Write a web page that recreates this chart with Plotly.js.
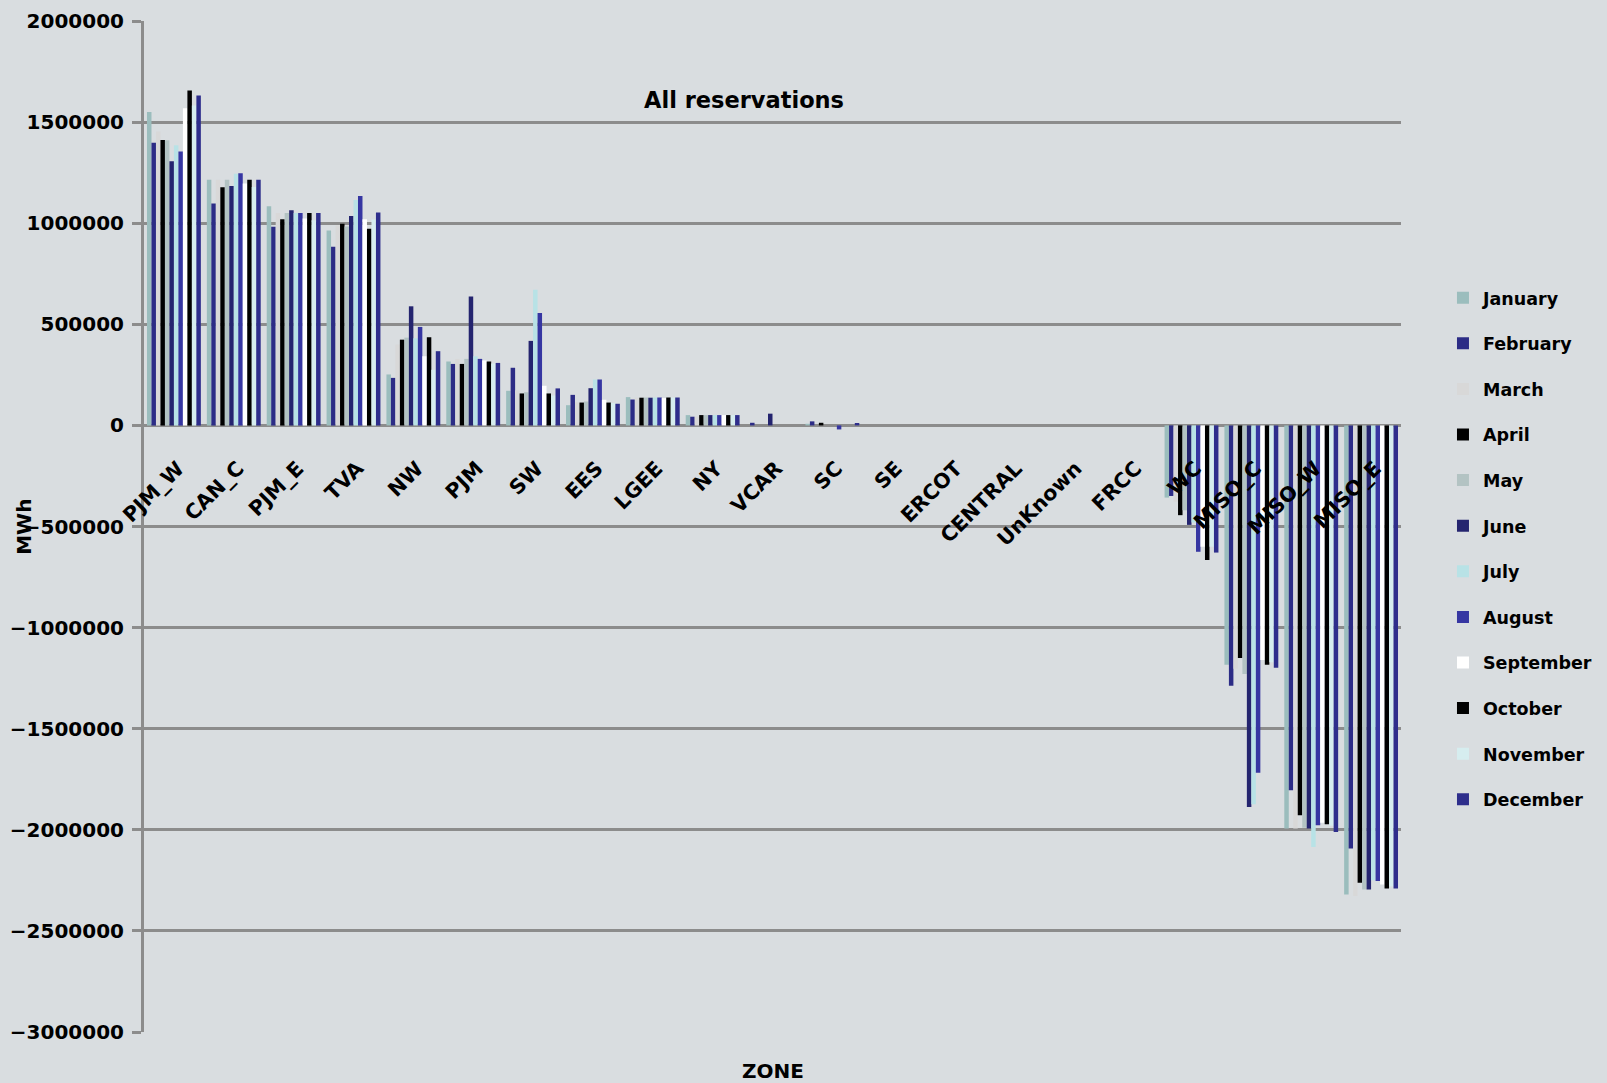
<!DOCTYPE html>
<html>
<head>
<meta charset="utf-8">
<script src="https://cdn.plot.ly/plotly-3.0.1.min.js"></script>
<style>
  html, body { margin: 0; padding: 0; background: #D9DDE0; }
  #chart { width: 1607px; height: 1083px; }
</style>
</head>
<body>
<div id="chart"></div>
<script>
const zones = ['PJM_W','CAN_C','PJM_E','TVA','NW','PJM','SW','EES','LGEE','NY','VCAR','SC','SE','ERCOT','CENTRAL','UnKnown','FRCC','WC','MISO_C','MISO_W','MISO_E'];

const january   = [1550000,1215000,1084000, 964000,252000,316000,171000,100000,140000,51000,    0,  8000,0,0,0,0,0,-357000,-1184000,-1994000,-2320000];
const february  = [1398000,1097000, 982000, 883000,235000,304000,285000,151000,128000,43000,13000, 20000,0,0,0,0,0,-349000,-1287000,-1805000,-2093000];
const march     = [1454000,1215000,1051000, 990000,400000,329000,173000,115000,137000,45000,    0,     0,0,0,0,0,0,-377000,-1204000,-1994000,-2328000];
const april     = [1411000,1178000,1020000, 997000,424000,304000,158000,113000,137000,51000,    0, 13000,0,0,0,0,0,-444000,-1150000,-1928000,-2262000];
const may       = [1410000,1215000,1051000, 984000,434000,329000,164000,118000,138000,51000,    0,     0,0,0,0,0,0,-420000,-1229000,-1990000,-2295000];
const june      = [1306000,1184000,1064000,1036000,589000,638000,418000,184000,137000,51000,58000,     0,0,0,0,0,0,-492000,-1887000,-1994000,-2295000];
const july      = [1385000,1245000,1051000,1115000,431000,342000,671000,227000,138000,51000,    0,     0,0,0,0,0,0,-480000,-1874000,-2085000,-2249000];
const august    = [1355000,1247000,1051000,1135000,487000,329000,556000,227000,138000,51000,    0,-20000,0,0,0,0,0,-625000,-1718000,-1978000,-2253000];
const september = [1569000,1196000,1023000,1020000,342000,321000,196000,127000,135000,51000,    0,     0,0,0,0,0,0,-600000,-1160000,-1965000,-2270000];
const october   = [1656000,1215000,1051000, 972000,436000,316000,158000,113000,138000,51000,    0,     0,0,0,0,0,0,-666000,-1184000,-1973000,-2290000];
const november  = [1582000,1179000,1015000,1018000,275000,306000,148000,110000,138000,51000,    0,     0,0,0,0,0,0,-600000,-1171000,-1980000,-2280000];
const december  = [1632000,1215000,1051000,1053000,367000,309000,183000,107000,138000,51000,    0, 12000,0,0,0,0,0,-629000,-1199000,-2011000,-2290000];

const monthNames = ['January','February','March','April','May','June','July','August','September','October','November','December'];
const monthValues = [january,february,march,april,may,june,july,august,september,october,november,december];
const monthColors = ['#9BBDBD','#2C2C86','#D8D8D8','#000000','#B3C3C3','#24246F','#B8E2E6','#3636A2','#FFFFFF','#000000','#D6EDEF','#2E2E8C'];

const yRange = [-3000000, 2000000];
const FONT = 'DejaVu Sans';
const GRID = '#8C8C8C';

const traces = monthNames.map((name, i) => ({
  type: 'bar',
  name: name,
  x: zones,
  y: monthValues[i],
  legendgroup: 'g' + i,
  marker: { color: monthColors[i], line: { width: 0 } },
  hoverinfo: 'x+y+name'
}));

const layout = {
  width: 1607,
  height: 1083,
  paper_bgcolor: '#D9DDE0',
  plot_bgcolor: '#D9DDE0',
  margin: { l: 144, r: 206, t: 21, b: 51, pad: 0, autoexpand: false },
  barmode: 'group',
  bargap: 0.1,
  bargroupgap: 0,
  showlegend: true,
  font: { family: FONT, size: 20, color: '#000000', weight: 'bold' },
  title: {
    text: 'All reservations',
    font: { family: FONT, size: 22.5, color: '#000000', weight: 'bold' },
    xref: 'container', yref: 'container',
    x: 0.463, y: 0.908, xanchor: 'center', yanchor: 'middle'
  },
  xaxis: {
    type: 'category',
    anchor: 'free',
    position: (0 - yRange[0]) / (yRange[1] - yRange[0]),
    tickangle: -45,
    tickfont: { family: FONT, size: 20.5, color: '#000000', weight: 'bold' },
    ticklabelstandoff: 26,
    ticklabelshift: 4,
    showgrid: false,
    showline: false,
    ticks: '',
    zeroline: false,
    automargin: false
  },
  yaxis: {
    range: yRange,
    dtick: 500000,
    tick0: 0,
    tickformat: 'd',
    tickfont: { family: FONT, size: 20, color: '#000000', weight: 'bold' },
    showgrid: true,
    gridcolor: GRID,
    gridwidth: 3,
    zeroline: true,
    zerolinecolor: GRID,
    zerolinewidth: 3,
    showline: true,
    linecolor: GRID,
    linewidth: 3,
    ticks: 'outside',
    ticklen: 9,
    tickwidth: 3,
    tickcolor: GRID,
    ticklabelstandoff: 4,
    automargin: false
  },
  legend: {
    x: 1.0334, xanchor: 'left',
    y: 0.744, yanchor: 'top',
    traceorder: 'grouped',
    tracegroupgap: 19.85,
    bgcolor: 'rgba(0,0,0,0)',
    font: { family: FONT, size: 17.5, color: '#000000', weight: 'bold' }
  },
  annotations: [
    { text: 'MWh', xref: 'paper', yref: 'paper', x: -0.096, y: 0.5, textangle: -90,
      showarrow: false, xanchor: 'center', yanchor: 'middle',
      font: { family: FONT, size: 20, color: '#000000', weight: 'bold' } },
    { text: 'ZONE', xref: 'paper', yref: 'paper', x: 0.5, y: -0.039,
      showarrow: false, xanchor: 'center', yanchor: 'middle',
      font: { family: FONT, size: 20, color: '#000000', weight: 'bold' } }
  ]
};

Plotly.newPlot('chart', traces, layout, { displayModeBar: false, staticPlot: true });
</script>
</body>
</html>
